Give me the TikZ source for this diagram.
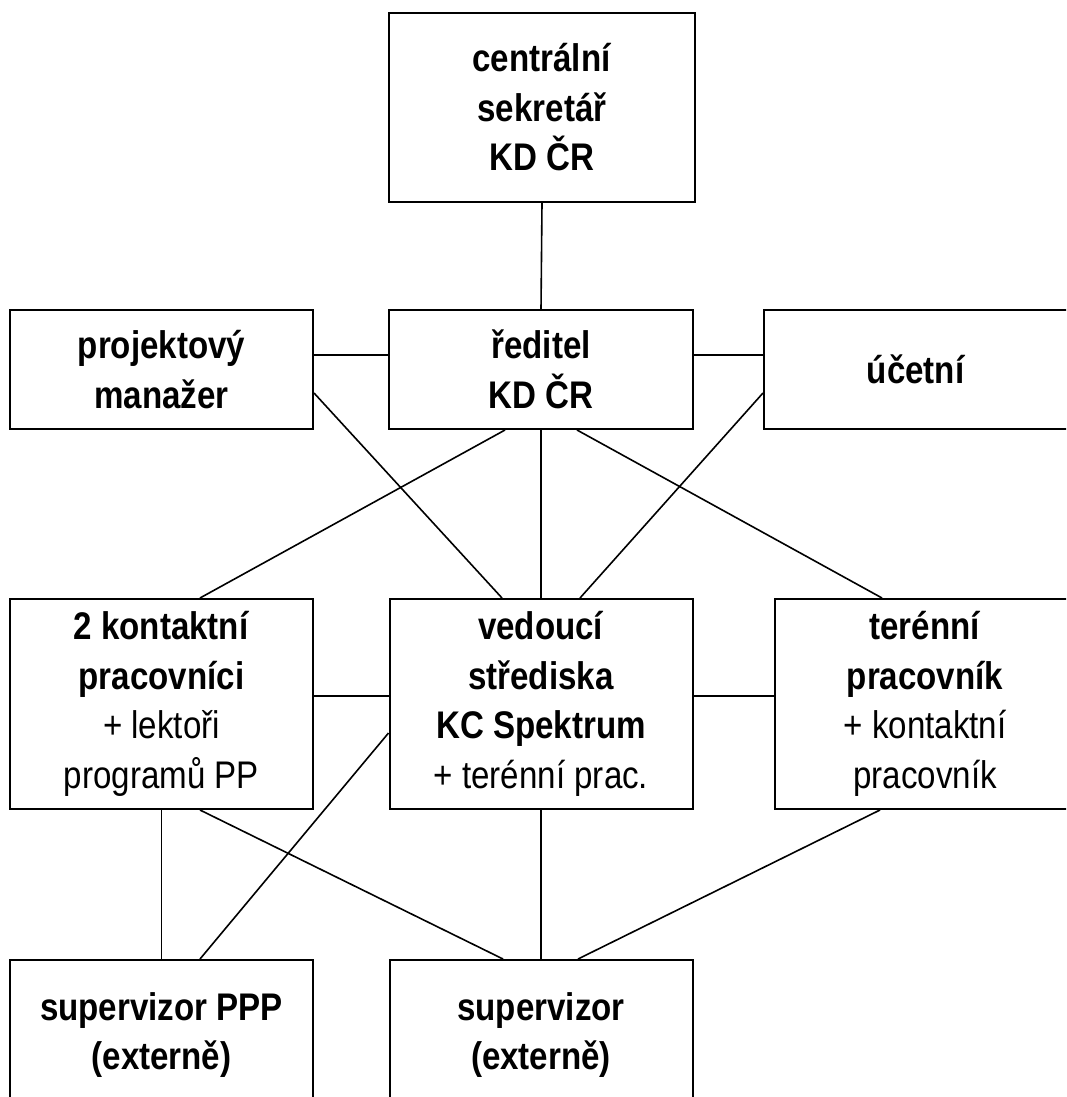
\documentclass[tikz,border=0pt]{standalone}
\usepackage{fontspec}
\setmainfont[FakeStretch=0.86]{Liberation Sans}
\usepackage{tikz}
\usetikzlibrary{positioning}

\begin{document}
\begin{tikzpicture}[x=1pt, y=-1pt,
    unit/.style={draw, line width=2pt, align=center, inner sep=0pt,
        minimum width=303pt, font=\fontsize{38.5}{49.5}\selectfont},
    link/.style={line width=1.6pt}]
        % Page frame
        \useasboundingbox (0,0) rectangle (1066,1097);
        \clip (0,0) rectangle (1066,1097);

        % Top box
        \node[unit, minimum width=306pt, minimum height=189pt] (sekretar) at (542,107.5)
            {\textbf{centrální}\\\textbf{sekretář}\\\textbf{KD ČR}};

        % Second row
        \node[unit, minimum width=304pt, minimum height=119pt] (reditel) at (541,369.5)
            {\textbf{ředitel}\\\textbf{KD ČR}};
        \node[unit, minimum height=119pt] (projektovy) at (161.5,369.5)
            {\textbf{projektový}\\\textbf{manažer}};
        \node[unit, minimum width=304pt, minimum height=119pt] (ucetni) at (916,369.5)
            {\textbf{účetní}};

        % Third row
        \node[unit, minimum height=210pt] (kontaktni) at (161.5,704)
            {\textbf{2 kontaktní}\\\textbf{pracovníci}\\+ lektoři\\programů PP};
        \node[unit, minimum height=210pt] (vedouci) at (541,704)
            {\textbf{vedoucí}\\\textbf{střediska}\\\textbf{KC Spektrum}\\+ terénní prac.};
        \node[unit, minimum width=300pt, minimum height=210pt] (terenni) at (925,704)
            {\textbf{terénní}\\\textbf{pracovník}\\+ kontaktní\\pracovník};

        % Bottom row
        \node[unit, minimum height=150pt] (supppp) at (161.5,1035)
            {\textbf{supervizor PPP}\\\textbf{(externě)}};
        \node[unit, minimum height=150pt] (superv) at (541,1035)
            {\textbf{supervizor}\\\textbf{(externě)}};

        % Links from the top
        \draw[link] (sekretar.south) -- (reditel.north);
        \draw[link] ([yshift=14.5pt]projektovy.east) -- ([yshift=14.5pt]reditel.west);
        \draw[link] ([yshift=14.5pt]reditel.east) -- ([yshift=14.5pt]ucetni.west);

        % Links down to the third row
        \draw[link] ([yshift=-23.5pt]projektovy.east) -- ([xshift=-39pt]vedouci.north);
        \draw[link] ([yshift=-23.5pt]ucetni.west) -- ([xshift=39pt]vedouci.north);
        \draw[link] ([xshift=-36pt]reditel.south) -- ([xshift=38.5pt]kontaktni.north);
        \draw[link] (reditel.south) -- (vedouci.north);
        \draw[link] ([xshift=36pt]reditel.south) -- ([xshift=-43pt]terenni.north);
        \draw[link] ([yshift=8pt]kontaktni.east) -- ([yshift=8pt]vedouci.west);
        \draw[link] ([yshift=8pt]vedouci.east) -- ([yshift=8pt]terenni.west);

        % Links down to the supervisors
        \draw[link] (kontaktni.south) -- (supppp.north);
        \draw[link] ([xshift=38.5pt]kontaktni.south) -- ([xshift=-38pt]superv.north);
        \draw[link] ([yshift=-29pt]vedouci.west) -- ([xshift=38.5pt]supppp.north);
        \draw[link] (vedouci.south) -- (superv.north);
        \draw[link] ([xshift=-45pt]terenni.south) -- ([xshift=37pt]superv.north);
    \end{tikzpicture}
\end{document}
